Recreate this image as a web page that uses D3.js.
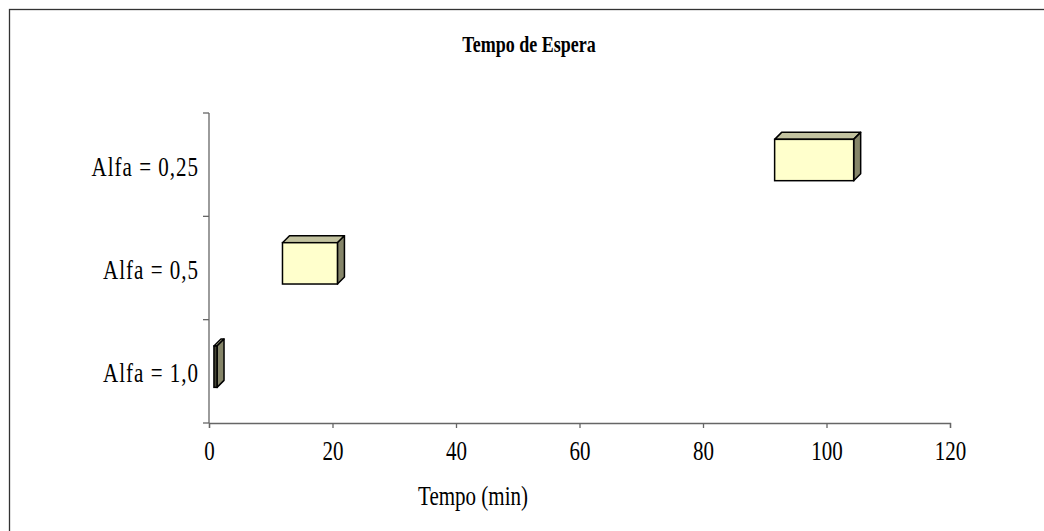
<!DOCTYPE html>
<html>
<head>
<meta charset="utf-8">
<script src="https://cdn.jsdelivr.net/npm/d3@7"></script>
<style>
  body { margin: 0; background: #fff; }
  svg text { font-family: "Liberation Serif", "Times New Roman", serif; fill: #000; }
</style>
</head>
<body>
<div id="chart"></div>
<script>
// categories, top to bottom
var categorias = ["Alfa = 0,25", "Alfa = 0,5", "Alfa = 1,0"];
// floating bars: start and end of each range (min)
var inicio = [91.6, 11.9, 0.8];
var fim = [104.4, 20.8, 1.3];
var xTicks = [0, 20, 40, 60, 80, 100, 120];

var W = 1044, H = 531;
var depth = 7;
var stretch = 1.27; // text in the original is drawn taller than normal

var svg = d3.select('#chart')
  .append('svg')
  .attr('width', W)
  .attr('height', H);

// chart frame
svg.append('rect')
  .attr('x', 9.5).attr('y', 9.5)
  .attr('width', W + 20).attr('height', H + 20)
  .attr('fill', 'none')
  .attr('stroke', '#333')
  .attr('stroke-width', 1.3);

var x = d3.scaleLinear().domain([0, 120]).range([209, 950]);
var y = d3.scaleBand().domain(categorias).range([113, 423]);
var bw = y.bandwidth();

// helper: stretched text
function label(px, py, txt, size, anchor) {
  return svg.append('text')
    .attr('transform', 'translate(' + px + ',' + py + ') scale(1,' + stretch + ')')
    .attr('text-anchor', anchor || 'middle')
    .attr('font-size', size)
    .text(txt);
}

// title
label(529, 52, 'Tempo de Espera', 18).attr('font-weight', 'bold');

// bars (3D boxes)
var data = categorias.map(function(c, i) { return {cat: c, a: inicio[i], b: fim[i]}; });

var g = svg.append('g');
var boxes = g.selectAll('g.box').data(data).enter().append('g').classed('box', true);

// top face
boxes.append('polygon')
  .attr('points', function(d) {
    var x0 = x(d.a), x1 = x(d.b), y0 = y(d.cat) + 0.255 * bw;
    return [[x0, y0], [x0 + depth, y0 - depth], [x1 + depth, y0 - depth], [x1, y0]].join(' ');
  })
  .attr('fill', '#c2c29f')
  .attr('stroke', '#000')
  .attr('stroke-width', 1.5)
  .attr('stroke-linejoin', 'round');

// side face
boxes.append('polygon')
  .attr('points', function(d) {
    var x1 = x(d.b), y0 = y(d.cat) + 0.255 * bw, y1 = y0 + 0.4 * bw;
    return [[x1, y0], [x1 + depth, y0 - depth], [x1 + depth, y1 - depth], [x1, y1]].join(' ');
  })
  .attr('fill', '#858569')
  .attr('stroke', '#000')
  .attr('stroke-width', 1.5)
  .attr('stroke-linejoin', 'round');

// front face
boxes.append('rect')
  .attr('x', function(d) { return x(d.a); })
  .attr('y', function(d) { return y(d.cat) + 0.255 * bw; })
  .attr('width', function(d) { return x(d.b) - x(d.a); })
  .attr('height', 0.4 * bw)
  .attr('fill', function(d) { return x(d.b) - x(d.a) < 5 ? '#454535' : '#ffffcc'; })
  .attr('stroke', '#000')
  .attr('stroke-width', 1.5);

// x axis
var xAxis = svg.append('g')
  .attr('transform', 'translate(0,423)')
  .call(d3.axisBottom(x).tickValues(xTicks).tickSize(5).tickFormat(d3.format('d')));
xAxis.select('.domain').attr('stroke', '#666').attr('stroke-width', 1.3);
xAxis.selectAll('.tick line').attr('stroke', '#666').attr('stroke-width', 1.3);
xAxis.selectAll('.tick text')
  .attr('y', 0).attr('dy', 0)
  .attr('transform', 'translate(0,37) scale(1,' + stretch + ')')
  .attr('font-size', 21)
  .attr('font-family', '"Liberation Serif", serif');

// y axis: line and ticks at band boundaries
var yAxis = svg.append('g');
yAxis.append('line')
  .attr('x1', 209).attr('x2', 209)
  .attr('y1', 113).attr('y2', 423)
  .attr('stroke', '#666').attr('stroke-width', 1.3);
var bounds = categorias.map(function(c) { return y(c); }).concat([y.range()[1]]);
yAxis.selectAll('line.tk').data(bounds).enter().append('line').classed('tk', true)
  .attr('x1', 203).attr('x2', 209)
  .attr('y1', function(d) { return d; })
  .attr('y2', function(d) { return d; })
  .attr('stroke', '#666').attr('stroke-width', 1.3);
yAxis.selectAll('text').data(categorias).enter().append('text')
  .attr('transform', function(d) { return 'translate(199,' + (y(d) + bw / 2 + 11) + ') scale(1,' + stretch + ')'; })
  .attr('text-anchor', 'end')
  .attr('font-size', 21)
  .attr('letter-spacing', 1)
  .text(function(d) { return d; });

// x axis title
label(473, 505, 'Tempo (min)', 21);
</script>
</body>
</html>
